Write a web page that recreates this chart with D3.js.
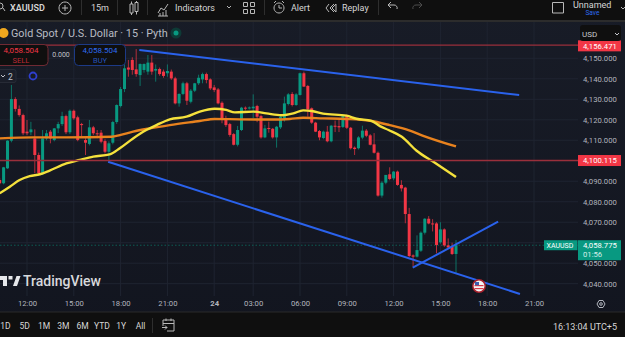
<!DOCTYPE html>
<html>
<head>
<meta charset="utf-8">
<script src="https://cdn.jsdelivr.net/npm/d3@7"></script>
<style>
html, body { margin: 0; padding: 0; background: #151924; overflow: hidden; }
svg { display: block; }
text { font-family: Roboto, "Liberation Sans", sans-serif; }
</style>
</head>
<body>
<div id="canvas"></div>
<script>
"use strict"

/***********************************
 DATA
************************************/
let firstBar = -7; // 12:00 on the left of the chart is bar 0

let opens = [4090.6,4089,4096.3,4109.8,4130.1,4125.3,4122.3,4114.2,4113.9,4110.9,4102.8,4093.9,4110.9,4114.2,4110.1,4115.8,4117.9,4121.8,4113.9,4124.4,4121.2,4117.9,4110.1,4108.2,4116.3,4113.4,4113.7,4109.6,4104.4,4108.8,4118.9,4126.7,4135,4145.5,4149.2,4144.6,4141.8,4144.3,4143.5,4147.9,4144,4144.8,4143.5,4142.7,4143.5,4140.2,4128,4132.6,4137.8,4128.8,4134.2,4137.8,4139.7,4142.3,4139.7,4135.8,4134.8,4128.3,4119.9,4117.9,4113,4107.8,4115,4125.9,4125.6,4125.6,4126.7,4121.8,4111.4,4116,4115.6,4111.4,4116.3,4120.7,4127.7,4132.6,4127.2,4132.1,4142.7,4136.5,4125.6,4118.6,4114.5,4111.1,4114.2,4109.5,4117.1,4116.9,4116.5,4122,4116.1,4106.4,4106.1,4111.3,4114.7,4112.4,4108,4103.9,4083,4089.3,4093.4,4091.4,4094.7,4088.2,4086.9,4074,4053.8,4053.2,4056.1,4064.9,4071.7,4069.4,4069.4,4060.2,4066.5,4058.7,4058.1,4054.5];
let highs = [4091.5,4097,4110,4137,4131,4127,4123,4119.9,4119,4115.3,4104,4115,4115,4115,4116,4119,4123.9,4122.5,4125,4125,4122,4118.5,4111,4119.9,4117,4115,4115,4110.5,4109.5,4119.5,4127.5,4136,4147,4149.2,4150.5,4154.5,4147.5,4147.5,4151.6,4151.6,4147,4145.5,4144.5,4147,4144.5,4141,4132.9,4138.6,4138.5,4135,4138,4142,4143,4143,4140.2,4137,4135.5,4129,4122,4118.5,4113.5,4117,4126.3,4126.5,4126.5,4132.4,4127.3,4122.5,4117.5,4119.1,4116,4117,4122,4131.3,4133,4133.5,4133,4143,4143.5,4137,4126,4119,4115,4114.7,4117,4117.5,4119.6,4120,4122.5,4122.5,4116.5,4107,4112,4117.1,4115.5,4113,4113.5,4104.5,4090,4093,4096.8,4095,4095.2,4090.5,4087.3,4077,4054.3,4063.6,4065.5,4072,4073,4071.5,4070,4070,4067,4062.1,4060,4061.3];
let lows = [4088.5,4088.5,4096,4109,4124,4121.5,4112.5,4112.5,4112.5,4093.9,4093,4093,4110,4108.5,4109.5,4113.5,4117,4113,4113,4120,4109.5,4111.5,4102.8,4107.5,4112.5,4111,4108.5,4103.5,4099.5,4108,4118,4126,4133.5,4141,4142,4141,4136.5,4143,4142,4142,4138.6,4141.5,4140.5,4141,4139.5,4127.5,4126.4,4132,4127.2,4128,4133.5,4137,4137.8,4137.8,4134.5,4133.5,4127.5,4118.3,4116.5,4111.7,4107.5,4107,4114.5,4124.6,4125,4120.7,4118.8,4110.8,4111,4113.7,4110.8,4106.4,4115.5,4119.1,4127,4126.5,4126.8,4131.8,4136,4121.5,4118,4114,4110,4110.5,4109,4109,4114,4114,4116,4115.5,4105.5,4102.8,4105.5,4110.5,4111.5,4107.5,4103.5,4082.5,4082,4088.5,4090.5,4090.5,4087.8,4085,4069.5,4053,4048.3,4052.8,4055.5,4064,4069,4065.5,4054.8,4059.5,4058,4057,4054,4045];
let closes = [4089,4096.8,4109.8,4130.1,4125.3,4122.3,4113.4,4113.4,4115.3,4102.8,4093.9,4110.9,4113.4,4110.9,4115.8,4117.9,4121.8,4113.9,4124.4,4120.7,4110.1,4117.4,4108.8,4116.3,4113.4,4113,4109.3,4104.4,4108.5,4118.9,4127.2,4135,4145.1,4144.5,4144.3,4142.3,4147.2,4147.2,4147.9,4143.5,4144.8,4142.3,4141.4,4143.8,4140.2,4128,4132.6,4137.8,4129.3,4134.2,4137.8,4140.5,4142.3,4139.4,4135.3,4134.5,4128,4119.9,4117.4,4112.6,4107.8,4115,4125.9,4125.6,4126,4126.4,4121.5,4111.4,4115.8,4115.6,4111.4,4116.6,4121.5,4128,4132.4,4127.2,4132.4,4142.7,4136.2,4125.1,4118.6,4114.2,4111.4,4114.2,4109.5,4117.1,4116.6,4116.3,4122,4116.1,4106.1,4105.7,4111.4,4114.7,4112.2,4107.8,4103.9,4083,4089.3,4093.1,4091.1,4094.7,4088.2,4086.5,4074,4053.5,4053.2,4056.4,4064.9,4071.7,4069.4,4069.1,4058.9,4066.5,4058.7,4057.7,4054.5,4058.8];

let yellowBars = [-7,-4.4,-1.9,0.7,3.3,5.8,10.1,13.5,17,21.2,23.8,27.2,30.6,33.2,36.6,40.9,44.3,48.1,51.1,53.3,58,61.4,65.3,68.3,70.8,73,75.9,81.9,84.5,88.3,90.5,92.7,96.1,99.9,104.2,110];
let yellowValues = [4084.1,4087.3,4090.6,4092.5,4093.4,4095.2,4098.7,4100.4,4102,4103.1,4106.1,4110.9,4115,4117.4,4120.2,4121.5,4124,4125.4,4124.8,4123.6,4124,4123.1,4122.2,4123.1,4124.6,4124.3,4123,4122,4120.5,4119.5,4116.9,4115,4111.7,4104.9,4099.5,4092.1];
let orangeBars = [-7,1.6,10.1,21.7,23.8,27.2,31.5,36.6,44.3,48.1,54.6,63.1,67.4,70.8,75.9,81.9,87.9,93,97.8,101.6,110];
let orangeValues = [4110.9,4111.4,4111.4,4111.7,4112.5,4114.2,4115.8,4117.4,4119.4,4120.4,4120.2,4120.1,4120.4,4121,4120.7,4120.4,4119.5,4117.4,4115,4112.2,4107];

let trendBars = [[28.8,126.2],[20.8,126.4],[98.9,120.8]];
let trendValues = [[4154.05,4132.1],[4099.5,4035],[4047.8,4070.3]];

let priceTicks = [4150,4140,4130,4120,4110,4100,4090,4080,4070,4060,4050,4040];
let timeBars = [0,12,24,36,48,58,70,82,94,106,118,130];
let timeLabels = ["12:00","15:00","18:00","21:00","24","03:00","06:00","09:00","12:00","15:00","18:00","21:00"];
let rangeLabels = ["1D","5D","1M","3M","6M","YTD","1Y","All"];

let stopPrice = 4156.471;
let levelPrice = 4100.115;
let lastPrice = 4058.775;

/***********************************
 CONFIGURATION VARIABLES
************************************/
let svgWidth = 625;
let svgHeight = 337;
let chartTop = 22;
let chartBottom = 312;
let chartRight = 578;
let axisFont = 7.7;

let barColor = "#0f0f0f";
let gridColor = "#1f2431";
let upColor = "#089981";
let downColor = "#f23645";
let lineBlue = "#2a62ec";
let axisColor = "#b2b5be";

let svg = d3.select("#canvas")
    .append("svg")
    .attr("width", svgWidth)
    .attr("height", svgHeight);

// chart background fades darker towards the bottom
let bgGradient = svg.append("linearGradient")
    .attr("id", "bg")
    .attr("x1", 0).attr("x2", 0)
    .attr("y1", 0).attr("y2", 1);
bgGradient.append("stop").attr("offset", 0).attr("stop-color", "#181c27");
bgGradient.append("stop").attr("offset", 1).attr("stop-color", "#12151f");

svg.append("rect")
    .attr("width", svgWidth)
    .attr("height", svgHeight)
    .attr("fill", "url(#bg)");

svg.append("clipPath")
    .attr("id", "plot")
    .append("rect")
    .attr("x", 0)
    .attr("y", chartTop)
    .attr("width", chartRight)
    .attr("height", chartBottom - chartTop);

/***********************************
 SCALES
************************************/
let xScale = d3.scaleLinear()
    .domain([0, 130])
    .range([27, 534]);

let yScale = d3.scaleLinear()
    .domain([4040, 4150])
    .range([283.7, 58.3]);

/***********************************
 GRID
************************************/
svg.append("g")
    .selectAll("line")
    .data(priceTicks)
    .join("line")
    .attr("x1", 0)
    .attr("x2", chartRight)
    .attr("y1", d => yScale(d))
    .attr("y2", d => yScale(d))
    .attr("stroke", gridColor);

svg.append("g")
    .selectAll("line")
    .data(timeBars)
    .join("line")
    .attr("x1", d => xScale(d))
    .attr("x2", d => xScale(d))
    .attr("y1", chartTop)
    .attr("y2", chartBottom - 16)
    .attr("stroke", gridColor);

/***********************************
 AXES
************************************/
let yAxis = d3.axisRight(yScale)
    .tickValues(priceTicks)
    .tickSize(0)
    .tickPadding(0)
    .tickFormat(d3.format(",.3f"));

let yAxisGroup = svg.append("g")
    .attr("transform", "translate(583, 0)")
    .call(yAxis);
yAxisGroup.select(".domain").remove();
yAxisGroup.selectAll("text")
    .attr("fill", axisColor)
    .attr("font-size", axisFont);

let xAxis = d3.axisBottom(xScale)
    .tickValues(timeBars)
    .tickSize(0)
    .tickPadding(0)
    .tickFormat((d, i) => timeLabels[i]);

let xAxisGroup = svg.append("g")
    .attr("transform", "translate(0, 301)")
    .call(xAxis);
xAxisGroup.select(".domain").remove();
xAxisGroup.selectAll("text")
    .attr("fill", axisColor)
    .attr("font-size", axisFont)
    .attr("font-weight", (d, i) => timeLabels[i] === "24" ? 700 : 400);

/***********************************
 CANDLES
************************************/
let plot = svg.append("g").attr("clip-path", "url(#plot)");

plot.append("line")
    .attr("x1", 0)
    .attr("x2", chartRight)
    .attr("y1", yScale(lastPrice))
    .attr("y2", yScale(lastPrice))
    .attr("stroke", upColor)
    .attr("stroke-opacity", 0.55)
    .attr("stroke-dasharray", "1.5 2");

let bars = opens.map((open, i) => ({
    bar: firstBar + i,
    open: open,
    high: highs[i],
    low: lows[i],
    close: closes[i]
}));

let candleColor = d => d.close >= d.open ? upColor : downColor;

plot.append("g")
    .selectAll("line")
    .data(bars)
    .join("line")
    .attr("x1", d => xScale(d.bar))
    .attr("x2", d => xScale(d.bar))
    .attr("y1", d => yScale(d.high))
    .attr("y2", d => yScale(d.low))
    .attr("stroke", candleColor)
    .attr("stroke-opacity", 0.7)
    .attr("stroke-width", 1);

plot.append("g")
    .selectAll("rect")
    .data(bars)
    .join("rect")
    .attr("x", d => xScale(d.bar) - 1.5)
    .attr("width", 3)
    .attr("y", d => yScale(Math.max(d.open, d.close)))
    .attr("height", d => Math.max(1, Math.abs(yScale(d.open) - yScale(d.close))))
    .attr("fill", candleColor);

/***********************************
 MOVING AVERAGES AND DRAWINGS
************************************/
let maLine = d3.line()
    .x(d => xScale(d[0]))
    .y(d => yScale(d[1]))
    .curve(d3.curveMonotoneX);

plot.append("path")
    .attr("d", maLine(d3.zip(orangeBars, orangeValues)))
    .attr("fill", "none")
    .attr("stroke", "#e8821e")
    .attr("stroke-width", 2.4);

plot.append("path")
    .attr("d", maLine(d3.zip(yellowBars, yellowValues)))
    .attr("fill", "none")
    .attr("stroke", "#f5e13c")
    .attr("stroke-width", 2.4);

svg.append("g")
    .selectAll("line")
    .data([stopPrice, levelPrice])
    .join("line")
    .attr("x1", 0)
    .attr("x2", chartRight)
    .attr("y1", d => yScale(d))
    .attr("y2", d => yScale(d))
    .attr("stroke", "#9a2f3b")
    .attr("stroke-width", 1.3);

plot.append("g")
    .selectAll("line")
    .data(d3.range(trendBars.length))
    .join("line")
    .attr("x1", i => xScale(trendBars[i][0]))
    .attr("x2", i => xScale(trendBars[i][1]))
    .attr("y1", i => yScale(trendValues[i][0]))
    .attr("y2", i => yScale(trendValues[i][1]))
    .attr("stroke", lineBlue)
    .attr("stroke-width", 2);

/***********************************
 PRICE LABELS
************************************/
function priceTag(price, h, fill, dy) {
    let y = yScale(price) + dy;
    svg.append("rect")
        .attr("x", 578).attr("y", y - h / 2)
        .attr("width", 43).attr("height", h)
        .attr("fill", fill);
    svg.append("text")
        .attr("x", 583).attr("y", y + 2.8)
        .attr("fill", "white").attr("font-size", axisFont)
        .text(d3.format(",.3f")(price));
}

priceTag(stopPrice, 11, downColor, 0.8);
priceTag(levelPrice, 11, downColor, 0);

// USD selector sits over the top of the axis
svg.append("rect")
    .attr("x", 580).attr("y", 25)
    .attr("width", 41).attr("height", 16)
    .attr("rx", 3)
    .attr("fill", barColor);
svg.append("text")
    .attr("x", 582).attr("y", 36.5)
    .attr("fill", "#c8c9ce").attr("font-size", 8)
    .text("USD");
svg.append("path")
    .attr("d", "M615 33l2 2l2 -2")
    .attr("fill", "none").attr("stroke", "#c8c9ce");

// last price tag
let lastY = yScale(lastPrice);
svg.append("rect")
    .attr("x", 544).attr("y", lastY - 5)
    .attr("width", 33.5).attr("height", 10)
    .attr("fill", upColor);
svg.append("text")
    .attr("x", 546.5).attr("y", lastY + 2.6)
    .attr("fill", "white").attr("font-size", 7)
    .text("XAUUSD");
svg.append("rect")
    .attr("x", 578).attr("y", lastY - 5)
    .attr("width", 43).attr("height", 20)
    .attr("fill", upColor);
svg.append("text")
    .attr("x", 583).attr("y", lastY + 2.8)
    .attr("fill", "white").attr("font-size", axisFont)
    .text(d3.format(",.3f")(lastPrice));
svg.append("text")
    .attr("x", 583).attr("y", lastY + 12)
    .attr("fill", "#d5efe9").attr("font-size", axisFont)
    .text("01:56");

/***********************************
 CHART HEADER AND ORDER BOXES
************************************/
svg.append("circle")
    .attr("cx", 3.5).attr("cy", 33).attr("r", 5)
    .attr("fill", "#f0a81e");
svg.append("text")
    .attr("x", 11).attr("y", 37)
    .attr("fill", "#b9bcc4").attr("font-size", 10.8)
    .text("Gold Spot / U.S. Dollar · 15 · Pyth");
svg.append("circle")
    .attr("cx", 176).attr("cy", 33).attr("r", 5.5)
    .attr("fill", "#0e3a36");
svg.append("circle")
    .attr("cx", 176).attr("cy", 33).attr("r", 2.5)
    .attr("fill", upColor);

function orderBox(x, w, stroke, fill, value, label) {
    svg.append("rect")
        .attr("x", x).attr("y", 44.5)
        .attr("width", w).attr("height", 21)
        .attr("rx", 4)
        .attr("fill", barColor)
        .attr("stroke", stroke);
    svg.append("text")
        .attr("x", x + w / 2 + (x < 0 ? -1 : 0)).attr("y", 53)
        .attr("text-anchor", "middle")
        .attr("fill", fill).attr("font-size", 8)
        .text(value);
    svg.append("text")
        .attr("x", x + w / 2 + (x < 0 ? -1 : 0)).attr("y", 62.5)
        .attr("text-anchor", "middle")
        .attr("fill", fill).attr("fill-opacity", 0.75).attr("font-size", 7.5)
        .text(label);
}

orderBox(-4, 52, "#6f2a33", downColor, "4,058.504", "SELL");
orderBox(74.5, 51, "#1d3a86", "#2e6bf0", "4,058.504", "BUY");

svg.append("text")
    .attr("x", 61).attr("y", 56.5)
    .attr("text-anchor", "middle")
    .attr("fill", "#c0c3ca").attr("font-size", 7)
    .text("0.000");

// collapsed indicators
svg.append("rect")
    .attr("x", -4).attr("y", 69.5)
    .attr("width", 20).attr("height", 13)
    .attr("rx", 2)
    .attr("fill", "#1a1e29").attr("stroke", "#272b36");
svg.append("path")
    .attr("d", "M1 75l2 2l2 -2")
    .attr("fill", "none").attr("stroke", "#c0c3ca");
svg.append("text")
    .attr("x", 8).attr("y", 79.5)
    .attr("fill", "#c0c3ca").attr("font-size", 8.5)
    .text("2");
svg.append("circle")
    .attr("cx", 33).attr("cy", 76).attr("r", 3.5)
    .attr("fill", "none").attr("stroke", "#2f3fd0").attr("stroke-width", 1.8);

/***********************************
 LOGO AND EVENT MARK
************************************/
svg.append("path")
    .attr("d", "M-1 276h8v10h-4v-6h-4z M8.500 276h4v3.500h-4z M13 286l3.500 -10h4l-3.500 10z")
    .attr("fill", "#e6e7ea");
svg.append("text")
    .attr("x", 23).attr("y", 286)
    .attr("fill", "#d8d9dc").attr("font-size", 14).attr("font-weight", 500)
    .text("TradingView");

let eventMark = svg.append("g").attr("transform", "translate(479, 286)");
eventMark.append("circle")
    .attr("r", 6.2)
    .attr("fill", "#f4f4f4").attr("stroke", "#a8202c").attr("stroke-width", 1.5);
eventMark.append("rect")
    .attr("x", -4.5).attr("y", -1)
    .attr("width", 9).attr("height", 1.2)
    .attr("fill", "#d8384a");
eventMark.append("rect")
    .attr("x", -4.5).attr("y", 2)
    .attr("width", 9).attr("height", 1.2)
    .attr("fill", "#d8384a");
eventMark.append("rect")
    .attr("x", -4).attr("y", -4)
    .attr("width", 4).attr("height", 3.2)
    .attr("fill", "#3a5fb0");

// settings gear
svg.append("path")
    .attr("d", "M597 304l2 -3.5h4l2 3.5l-2 3.5h-4z")
    .attr("fill", "none").attr("stroke", axisColor);
svg.append("circle")
    .attr("cx", 601).attr("cy", 304).attr("r", 1.3)
    .attr("fill", "none").attr("stroke", axisColor);

/***********************************
 TOP TOOLBAR
************************************/
let toolbarText = "#d6d6d6";
let iconColor = "#b8b8b8";

svg.append("rect")
    .attr("width", svgWidth).attr("height", 20)
    .attr("fill", barColor);
svg.append("rect")
    .attr("y", 20).attr("width", svgWidth).attr("height", 2)
    .attr("fill", "#2c2c2c");

svg.append("g")
    .selectAll("rect")
    .data([81, 117, 147, 264, 378])
    .join("rect")
    .attr("x", d => d).attr("y", 0)
    .attr("width", 1).attr("height", 15)
    .attr("fill", "#2e2e2e");

function toolbarLabel(x, y, label, size, color, weight) {
    svg.append("text")
        .attr("x", x).attr("y", y)
        .attr("fill", color).attr("font-size", size).attr("font-weight", weight)
        .text(label);
}

function icon(path) {
    svg.append("path")
        .attr("d", path)
        .attr("fill", "none")
        .attr("stroke", iconColor);
}

toolbarLabel(10, 11, "XAUUSD", 9, toolbarText, 600);
toolbarLabel(91, 11, "15m", 9, toolbarText, 400);
toolbarLabel(175, 11, "Indicators", 9, toolbarText, 400);
toolbarLabel(291, 11, "Alert", 9, toolbarText, 400);
toolbarLabel(342, 11, "Replay", 9, toolbarText, 400);
toolbarLabel(573, 7.5, "Unnamed", 9, toolbarText, 400);
toolbarLabel(585.5, 15, "Save", 6.5, "#2e6bf0", 400);

icon("M0 3a3 3 0 1 1 0 6 M3 8l2 3");
icon("M65 2a6 6 0 1 0 .01 0 M65 5v6 M62 8h6");
icon("M130 4h3v9h-3z M135 2.500h3v9h-3z M131.500 1.500v2.500 M131.500 13v2 M136.500 1v1.500 M136.500 11.500v3");
icon("M158 13l3 -5l3 2l4 -6 M158 16h10 M160 16v-3 M163 16v-4 M166 16v-6");
icon("M227 6l2 2l2 -2");
icon("M243.500 2.500h4v4h-4z M250.500 2.500h4v4h-4z M243.500 9.500h4v4h-4z M250.500 9.500h4v4h-4z");
icon("M279 3a5 5 0 1 0 .01 0 M279 5v3h3 M274 3l2 -2 M282 1l2 2");
icon("M334 4l-4 4l4 4 M336 4l-4 4l4 4z M329 4l-3 4l3 4");
icon("M388 5l3 -3 M388 5l3 3 M388 5h6a3 3 0 0 1 3 4");
svg.append("path")
    .attr("d", "M422 5l-3 -3 M422 5l-3 3 M422 5h-6a3 3 0 0 0 -3 4")
    .attr("fill", "none").attr("stroke", "#4d4d4d");
icon("M552.500 2.500h11v10.500h-11z");
icon("M621 7l2 2l2 -2");

/***********************************
 BOTTOM TOOLBAR
************************************/
svg.append("rect")
    .attr("y", 312).attr("width", svgWidth).attr("height", 25)
    .attr("fill", barColor);
svg.append("rect")
    .attr("y", 311.500).attr("width", svgWidth).attr("height", 1)
    .attr("fill", "#2a2a2a");

let rangeScale = d3.scalePoint()
    .domain(rangeLabels)
    .range([5.5, 140.5]);

svg.append("g")
    .selectAll("text")
    .data(rangeLabels)
    .join("text")
    .attr("x", d => rangeScale(d))
    .attr("y", 329)
    .attr("text-anchor", "middle")
    .attr("fill", toolbarText)
    .attr("font-size", 8.5)
    .text(d => d);

svg.append("rect")
    .attr("x", 152).attr("y", 318)
    .attr("width", 1).attr("height", 15)
    .attr("fill", "#2e2e2e");
icon("M163 320h11v11h-7 M163 326v-6 M163 323.500h11 M166 318.500v2.500 M171 318.500v2.500 M162 327.500h5 M165 325.500l2 2l-2 2");

svg.append("text")
    .attr("x", 617).attr("y", 329.500)
    .attr("text-anchor", "end")
    .attr("fill", toolbarText)
    .attr("font-size", 9)
    .text("16:13:04 UTC+5");
</script>
</body>
</html>
